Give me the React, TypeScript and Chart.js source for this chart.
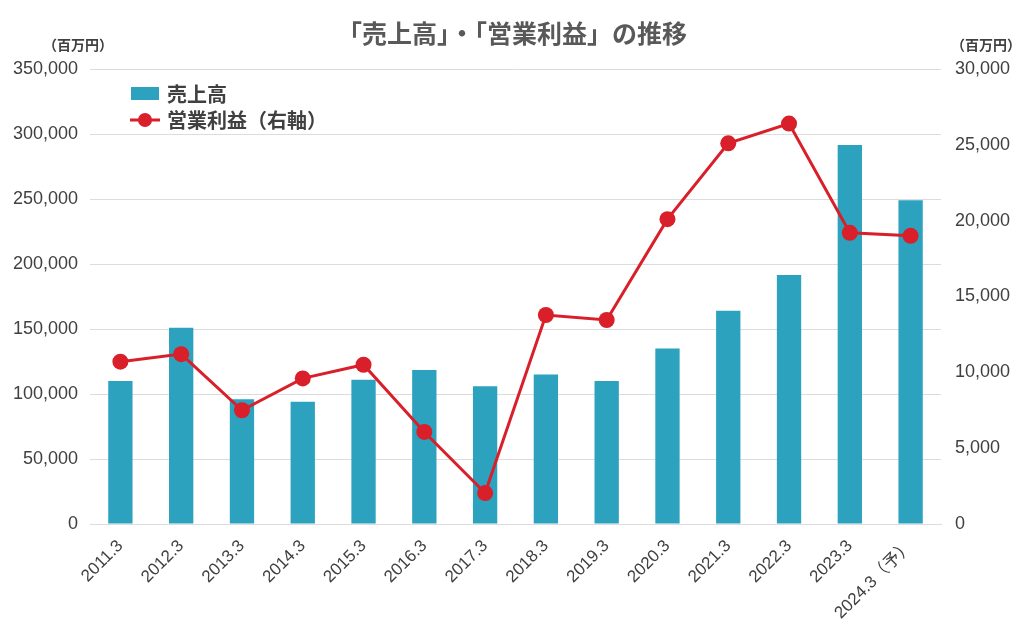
import React, { useEffect, useRef } from "react";
import { Chart, registerables } from "chart.js";

Chart.register(...registerables);

const categories = ["2011.3", "2012.3", "2013.3", "2014.3", "2015.3", "2016.3", "2017.3", "2018.3", "2019.3", "2020.3", "2021.3", "2022.3", "2023.3", "2024.3（予）"];
const salesValues = [110000, 151000, 96000, 94000, 111000, 118500, 106000, 115000, 110000, 135000, 164000, 191500, 291500, 249000];
const profitValues = [10700, 11200, 7500, 9600, 10500, 6070, 2040, 13780, 13450, 20100, 25100, 26400, 19200, 19000];
const titleText = "「売上高」・「営業利益」の推移";
const unitText = "（百万円）";
const salesLabel = "売上高";
const profitLabel = "営業利益（右軸）";

const BAR_COLOR = "#2ca2be";
const LINE_COLOR = "#d91f29";
const TEXT_COLOR = "#404040";
const FONT = "'Liberation Sans', 'Noto Sans CJK JP', sans-serif";
const JP_FONT = "'Noto Sans CJK JP', 'Liberation Sans', sans-serif";

const overlayPlugin = {
  id: "overlay",
  afterDraw(chart: any) {
    const ctx = chart.ctx;
    ctx.save();
    ctx.fillStyle = "#595959";
    ctx.textBaseline = "middle";
    ctx.textAlign = "center";
    ctx.font = `bold 25px ${JP_FONT}`;
    ctx.fillText(titleText, 512, 33);
    ctx.font = `bold 14px ${JP_FONT}`;
    ctx.fillStyle = TEXT_COLOR;
    ctx.fillText(unitText, 78, 45);
    ctx.fillText(unitText, 986, 45);
    // legend
    ctx.fillStyle = BAR_COLOR;
    ctx.fillRect(131, 87, 28, 13);
    ctx.strokeStyle = LINE_COLOR;
    ctx.lineWidth = 3;
    ctx.beginPath();
    ctx.moveTo(130, 120);
    ctx.lineTo(160, 120);
    ctx.stroke();
    ctx.fillStyle = LINE_COLOR;
    ctx.beginPath();
    ctx.arc(145, 120, 7, 0, Math.PI * 2);
    ctx.fill();
    ctx.fillStyle = TEXT_COLOR;
    ctx.textAlign = "left";
    ctx.font = `bold 20px ${JP_FONT}`;
    ctx.fillText(salesLabel, 167, 94);
    ctx.fillText(profitLabel, 167, 120);
    ctx.restore();
  },
};

export default function App() {
  const ref = useRef<HTMLCanvasElement>(null);
  useEffect(() => {
    if (!ref.current) return;
    const chart = new Chart(ref.current, {
      type: "bar",
      data: {
        labels: categories,
        datasets: [
          {
            type: "line",
            label: profitLabel,
            data: profitValues,
            yAxisID: "y1",
            borderColor: LINE_COLOR,
            backgroundColor: LINE_COLOR,
            borderWidth: 3,
            pointRadius: 8,
            pointBackgroundColor: LINE_COLOR,
            pointBorderWidth: 0,
            tension: 0,
            order: 0,
          } as any,
          {
            type: "bar",
            label: salesLabel,
            data: salesValues,
            yAxisID: "y",
            backgroundColor: BAR_COLOR,
            barPercentage: 0.8,
            categoryPercentage: 0.5,
            order: 1,
          },
        ],
      },
      options: {
        animation: false,
        responsive: false,
        maintainAspectRatio: false,
        layout: { padding: { top: 69, left: 0, right: 0, bottom: 0 } },
        plugins: {
          legend: { display: false },
          tooltip: { enabled: false },
          title: { display: false },
        },
        scales: {
          x: {
            grid: { display: false },
            border: { display: true, color: "#dcdcdc", width: 1 },
            ticks: {
              color: TEXT_COLOR,
              font: { family: FONT, size: 17 },
              maxRotation: 45,
              minRotation: 45,
              autoSkip: false,
              padding: 4,
            },
            afterFit(scale: any) {
              scale.height = 106;
            },
          },
          y: {
            position: "left",
            min: 0,
            max: 350000,
            grid: { color: "#dcdcdc", drawTicks: false },
            border: { display: false },
            ticks: {
              stepSize: 50000,
              color: TEXT_COLOR,
              padding: 12,
              font: { family: FONT, size: 18 },
              callback: (v: any) => Number(v).toLocaleString("en-US"),
            },
            afterFit(scale: any) {
              scale.width = 90;
            },
          },
          y1: {
            position: "right",
            min: 0,
            max: 30000,
            grid: { display: false, drawTicks: false },
            border: { display: false },
            ticks: {
              stepSize: 5000,
              color: TEXT_COLOR,
              padding: 14,
              font: { family: FONT, size: 18 },
              callback: (v: any) => Number(v).toLocaleString("en-US"),
            },
            afterFit(scale: any) {
              scale.width = 83;
            },
          },
        },
      },
      plugins: [overlayPlugin],
    });
    return () => chart.destroy();
  }, []);
  return (
    <div style={{ position: "fixed", left: 0, top: 0, width: 1024, height: 630, background: "#fff" }}>
      <canvas ref={ref} width={1024} height={630} style={{ width: 1024, height: 630, display: "block" }} />
    </div>
  );
}
